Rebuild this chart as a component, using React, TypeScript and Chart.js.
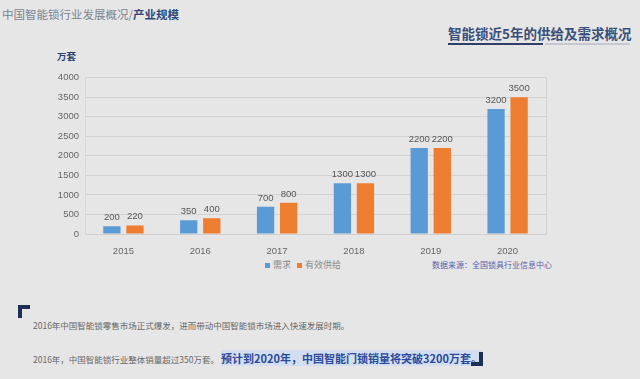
import React, { useEffect, useRef } from "react";
import { Chart, registerables } from "chart.js";

Chart.register(...registerables);

const categories = ["2015", "2016", "2017", "2018", "2019", "2020"];
const demand = [200, 350, 700, 1300, 2200, 3200];
const supply = [220, 400, 800, 1300, 2200, 3500];
const seriesNames = ["需求", "有效供给"];
const yTicks = [0, 500, 1000, 1500, 2000, 2500, 3000, 3500, 4000];

const BLUE = "#5b9bd5";
const ORANGE = "#ed7d31";
const CJK = '"Noto Sans CJK SC", "Noto Sans", sans-serif';
const NUM = '"Liberation Sans Narrow", "Liberation Sans", sans-serif';

const labelPlugin = {
  id: "barLabels",
  afterDatasetsDraw(chart: any) {
    const ctx = chart.ctx;
    ctx.save();
    ctx.font = '9.5px ' + NUM;
    ctx.fillStyle = "#555";
    ctx.textAlign = "center";
    ctx.textBaseline = "bottom";
    chart.data.datasets.forEach((ds: any, i: number) => {
      const meta = chart.getDatasetMeta(i);
      meta.data.forEach((bar: any, j: number) => {
        ctx.fillText(String(ds.data[j]), bar.x, bar.y - 4);
      });
    });
    const a = chart.chartArea;
    ctx.strokeStyle = "#d2d2d2";
    ctx.lineWidth = 1;
    ctx.beginPath();
    ctx.moveTo(Math.round(a.right) + 0.5, a.top);
    ctx.lineTo(Math.round(a.right) + 0.5, a.bottom);
    ctx.stroke();
    ctx.restore();
  },
};

function BarChart() {
  const ref = useRef<HTMLCanvasElement | null>(null);
  useEffect(() => {
    if (!ref.current) return;
    const chart = new Chart(ref.current, {
      type: "bar",
      data: {
        labels: categories,
        datasets: [
          { label: seriesNames[0], data: demand, backgroundColor: BLUE, barPercentage: 0.75, categoryPercentage: 0.6 },
          { label: seriesNames[1], data: supply, backgroundColor: ORANGE, barPercentage: 0.75, categoryPercentage: 0.6 },
        ],
      },
      options: {
        animation: false,
        responsive: false,
        maintainAspectRatio: false,
        layout: { padding: { top: 9, right: 14, left: 0, bottom: 0 } },
        plugins: { legend: { display: false }, tooltip: { enabled: false } },
        scales: {
          x: {
            grid: { display: false },
            border: { color: "#cfcfcf" },
            ticks: { color: "#666", font: { size: 9.5, family: NUM }, padding: 4 },
            afterFit: (s: any) => { s.height = 20; },
          },
          y: {
            min: 0,
            max: 4000,
            afterBuildTicks: (s: any) => { s.ticks = yTicks.map((v) => ({ value: v })); },
            grid: { color: "#d2d2d2", drawTicks: false },
            border: { color: "#d8d8d8" },
            ticks: { color: "#666", font: { size: 9.5, family: NUM }, padding: 6, callback: (v: any) => String(v) },
            afterFit: (s: any) => { s.width = 45; },
          },
        },
      },
      plugins: [labelPlugin],
    });
    return () => chart.destroy();
  }, []);
  return (
    <canvas
      ref={ref}
      width={520}
      height={188}
      style={{ position: "absolute", left: 40, top: 66, width: 520, height: 188 }}
    />
  );
}

export default function App() {
  const abs = (s: React.CSSProperties): React.CSSProperties => ({ position: "absolute", whiteSpace: "nowrap", ...s });
  return (
    <div style={{ position: "fixed", left: 0, top: 0, width: 640, height: 379, background: "#e6e6e6", overflow: "hidden", fontFamily: CJK }}>
      <div style={abs({ left: 2, top: 5, fontSize: 11.5, lineHeight: "18px", color: "#7d8490" })}>
        中国智能锁行业发展概况/<b style={{ color: "#2d4a7a" }}>产业规模</b>
      </div>
      <div style={abs({ left: 448, top: 23, fontSize: 13.5, lineHeight: "20px", color: "#3a4f7a", fontWeight: 700 })}>
        智能锁近5年的供给及需求概况
      </div>
      <div style={abs({ left: 448, top: 43, width: 95, height: 2, background: "#2f3e6b" })} />
      <div style={abs({ left: 545, top: 43, width: 85, height: 2, background: "#c5c8d0" })} />
      <div style={abs({ left: 57, top: 49, fontSize: 9.5, lineHeight: "14px", color: "#2d3f6b", fontWeight: 700 })}>万套</div>

      <BarChart />

      <div style={abs({ left: 265, top: 258, fontSize: 9, lineHeight: "14px", color: "#8a8a8a", display: "flex", alignItems: "center" })}>
        <span style={{ display: "inline-block", width: 5, height: 5, background: BLUE, marginRight: 3 }} />
        {seriesNames[0]}
        <span style={{ display: "inline-block", width: 5, height: 5, background: ORANGE, marginLeft: 6, marginRight: 3 }} />
        {seriesNames[1]}
      </div>
      <div style={abs({ left: 432, top: 258, fontSize: 8, lineHeight: "14px", color: "#5a5fa8" })}>
        数据来源：全国锁具行业信息中心
      </div>

      <div style={abs({ left: 18, top: 305, width: 12, height: 4, background: "#1e2f55" })} />
      <div style={abs({ left: 18, top: 305, width: 4, height: 13, background: "#1e2f55" })} />
      <div style={abs({ left: 33, top: 318, fontSize: 8.5, lineHeight: "14px", color: "#666" })}>
        2016年中国智能锁零售市场正式爆发，进而带动中国智能锁市场进入快速发展时期。
      </div>
      <div style={abs({ left: 33, top: 350, fontSize: 8.5, lineHeight: "16px", color: "#666" })}>
        2016年，中国智能锁行业整体销量超过350万套。
        <span style={{ fontSize: 11, fontWeight: 700, color: "#2a4a9a", background: "#d3def0", marginLeft: 2 }}>
          预计到2020年，中国智能门锁销量将突破3200万套。
        </span>
      </div>
      <div style={abs({ left: 479, top: 352, width: 4, height: 14, background: "#1e2f55" })} />
      <div style={abs({ left: 471, top: 362, width: 12, height: 4, background: "#1e2f55" })} />
    </div>
  );
}
